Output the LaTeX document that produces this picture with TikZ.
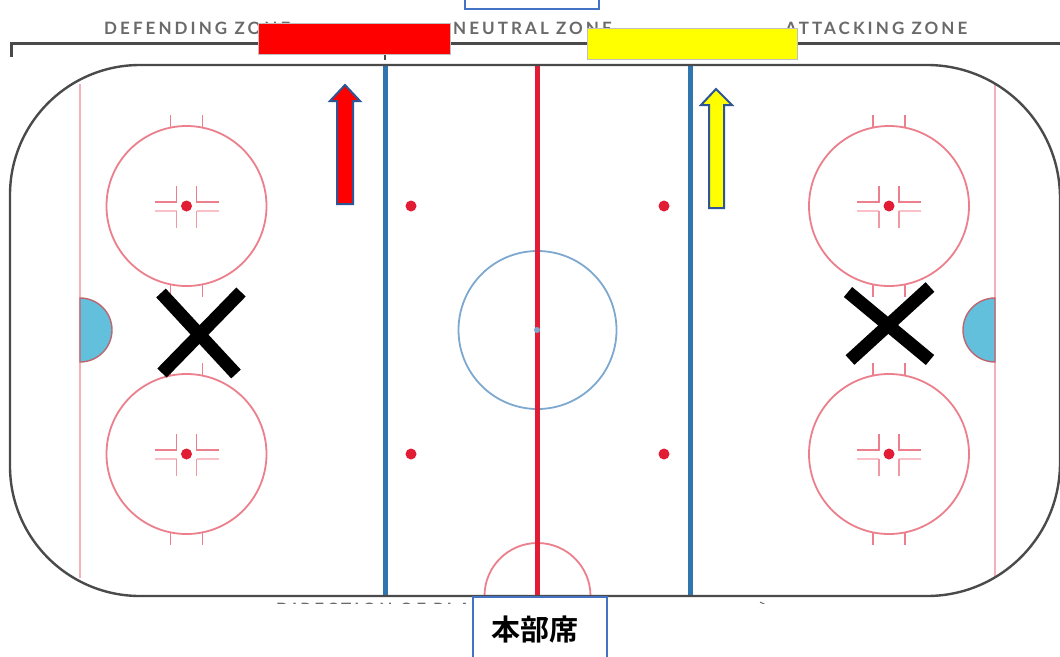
\documentclass[tikz,border=0pt]{standalone}
\usepackage{fontspec}
\setmainfont{Lato}
\newfontfamily\zonefont[LetterSpace=18]{Lato}
\newfontfamily\cjk{Noto Sans CJK JP}[BoldFont={* Bold}]
\definecolor{rinkline}{HTML}{4A4A4A}
\definecolor{pinkline}{HTML}{EC7F8C}
\definecolor{paleline}{HTML}{F6B0B9}
\definecolor{softline}{HTML}{F9C0C8}
\definecolor{redline}{HTML}{E21C34}
\definecolor{blueline}{HTML}{2F75B0}
\definecolor{centreline}{HTML}{7DA8CF}
\definecolor{crease}{HTML}{62C0DC}
\definecolor{boxblue}{HTML}{4472C4}
\definecolor{arrowblue}{HTML}{2F5597}
\definecolor{barborder}{HTML}{BFBFBF}
\definecolor{zonetext}{HTML}{6A6A6A}
\definecolor{purered}{RGB}{255,0,0}
\definecolor{pureyellow}{RGB}{255,255,0}
\tikzset{
  x=1pt,y=-1pt,
  zonelabel/.style={anchor=west,inner sep=0pt,text=zonetext,font=\zonefont\bfseries\fontsize{17}{17}\selectfont},
  bar/.style={draw=barborder,line width=1.3pt,inner sep=0pt,anchor=north west},
  seatbox/.style={draw=boxblue,fill=white,line width=1.6pt,inner sep=0pt,anchor=north west},
  upmark/.style={draw=arrowblue,line width=2pt,line join=miter},
  crossmark/.style={line width=13pt,black},
  faceoff/.style={draw=pinkline,line width=1.8pt},
  hashmark/.style={draw=pinkline,line width=1.4pt},
  rinkedge/.style={draw=rinkline,line width=2.4pt},
}
\newcommand{\faceoffspot}[2]{%
  \draw[faceoff] (#1,#2) circle[radius=80];
  \foreach \dx in {-16,16}{
    \draw[hashmark] (#1+\dx,#2-91) -- (#1+\dx,#2-79);
    \draw[hashmark] (#1+\dx,#2+79) -- (#1+\dx,#2+91);
  }
  \draw[pinkline,line width=1.6pt] (#1-32,#2-4) -- (#1-10,#2-4) -- (#1-10,#2-20)
    (#1+32,#2-4) -- (#1+10,#2-4) -- (#1+10,#2-20);
  \draw[softline,line width=2.2pt] (#1-32,#2+5) -- (#1-10,#2+5);
  \draw[softline,line width=2.2pt] (#1+32,#2+5) -- (#1+10,#2+5);
  \draw[pinkline!80,line width=1.6pt] (#1-10,#2+5) -- (#1-10,#2+22) (#1+10,#2+5) -- (#1+10,#2+22);
  \fill[redline] (#1,#2) circle[radius=5.5];
}
\begin{document}
\begin{tikzpicture}
\useasboundingbox (0,0) rectangle (1060,656);
\clip (0,0) rectangle (1060,656);
\fill[white] (0,0) rectangle (1060,656);
% zone titles and bracket
\node[zonelabel] (defzone) at (104,28) {DEFENDING ZONE};
\node[zonelabel] (neuzone) at (453,28) {NEUTRAL ZONE};
\node[zonelabel] (attzone) at (785,28) {ATTACKING ZONE};
\draw[rinkline,line width=3pt] (11,57) -- (11,43.5) -- (1062,43.5);
\draw[rinkline,line width=1.5pt] (385,55) -- (385,60);
% bottom title, cut off by the white below
\node[zonelabel] (playdir) at (276,609) {DIRECTION OF PLAY};
\draw[zonetext,line width=1pt] (760,602) -- (768,606);
\fill[white] (200,604) rectangle (900,640);
% rink markings
\draw[paleline,line width=2pt] (80,84) -- (80,578);
\draw[paleline,line width=2pt] (995,84) -- (995,578);
\filldraw[fill=crease,draw=pinkline!80!black,line width=1.4pt] (80,298) .. controls (97.7,298) and (112,312.3) .. (112,330) .. controls (112,347.7) and (97.7,362) .. (80,362) -- cycle;
\filldraw[fill=crease,draw=pinkline!80!black,line width=1.4pt] (995,298) .. controls (977.3,298) and (963,312.3) .. (963,330) .. controls (963,347.7) and (977.3,362) .. (995,362) -- cycle;
\faceoffspot{186.5}{206}
\faceoffspot{186.5}{454}
\faceoffspot{889}{206}
\faceoffspot{889}{454}
\draw[centreline,line width=1.8pt] (537.5,330) circle[radius=79];
\draw[pinkline,line width=1.8pt] (484.5,596) .. controls (484.5,566.7) and (508.2,543) .. (537.5,543) .. controls (566.8,543) and (590.5,566.7) .. (590.5,596);
\draw[blueline,line width=5pt] (385,65) -- (385,596);
\draw[blueline,line width=5pt] (690,65) -- (690,596);
\draw[redline,line width=5pt] (537,65) -- (537,596);
\fill[centreline] (537,330) circle[radius=3];
\foreach \sx/\sy in {411/206,664/206,411/454,664/454}
  \fill[redline] (\sx,\sy) circle[radius=5.5];
% rink outline
\draw[rinkedge] (140,65) -- (927,65) .. controls (1000.5,65) and (1060,124.5) .. (1060,198)
  -- (1060,463) .. controls (1060,536.5) and (1000.5,596) .. (927,596)
  -- (140,596) .. controls (68.2,596) and (10,537.8) .. (10,466)
  -- (10,195) .. controls (10,123.2) and (68.2,65) .. (140,65) -- cycle;
% team bars
\node[bar,fill=purered,minimum width=192pt,minimum height=31pt] (redbar) at (258,23) {};
\node[bar,fill=pureyellow,minimum width=210pt,minimum height=31pt] (yellowbar) at (587,28) {};
% up arrows
\filldraw[upmark,fill=purered] (345,85) -- (360,101) -- (353,101) -- (353,204) -- (337,204) -- (337,101) -- (330,101) -- cycle;
\filldraw[upmark,fill=pureyellow] (716,89) -- (732,105) -- (724,105) -- (724,208) -- (709,208) -- (709,105) -- (701,105) -- cycle;
% crosses
\draw[crossmark] (161,293) -- (236,374);
\draw[crossmark] (241,292) -- (162,373);
\draw[crossmark] (848,292) -- (930,360);
\draw[crossmark] (930,287) -- (850,360);
% boxes
\node[seatbox,minimum width=134pt,minimum height=40pt] (topbox) at (464,-32) {};
\node[seatbox,minimum width=134pt,minimum height=80pt] (seatbox) at (472,596) {};
\node[inner sep=0pt,font=\cjk\bfseries\fontsize{29}{29}\selectfont] (seatlabel) at (535,629) {本部席};
\end{tikzpicture}
\end{document}
